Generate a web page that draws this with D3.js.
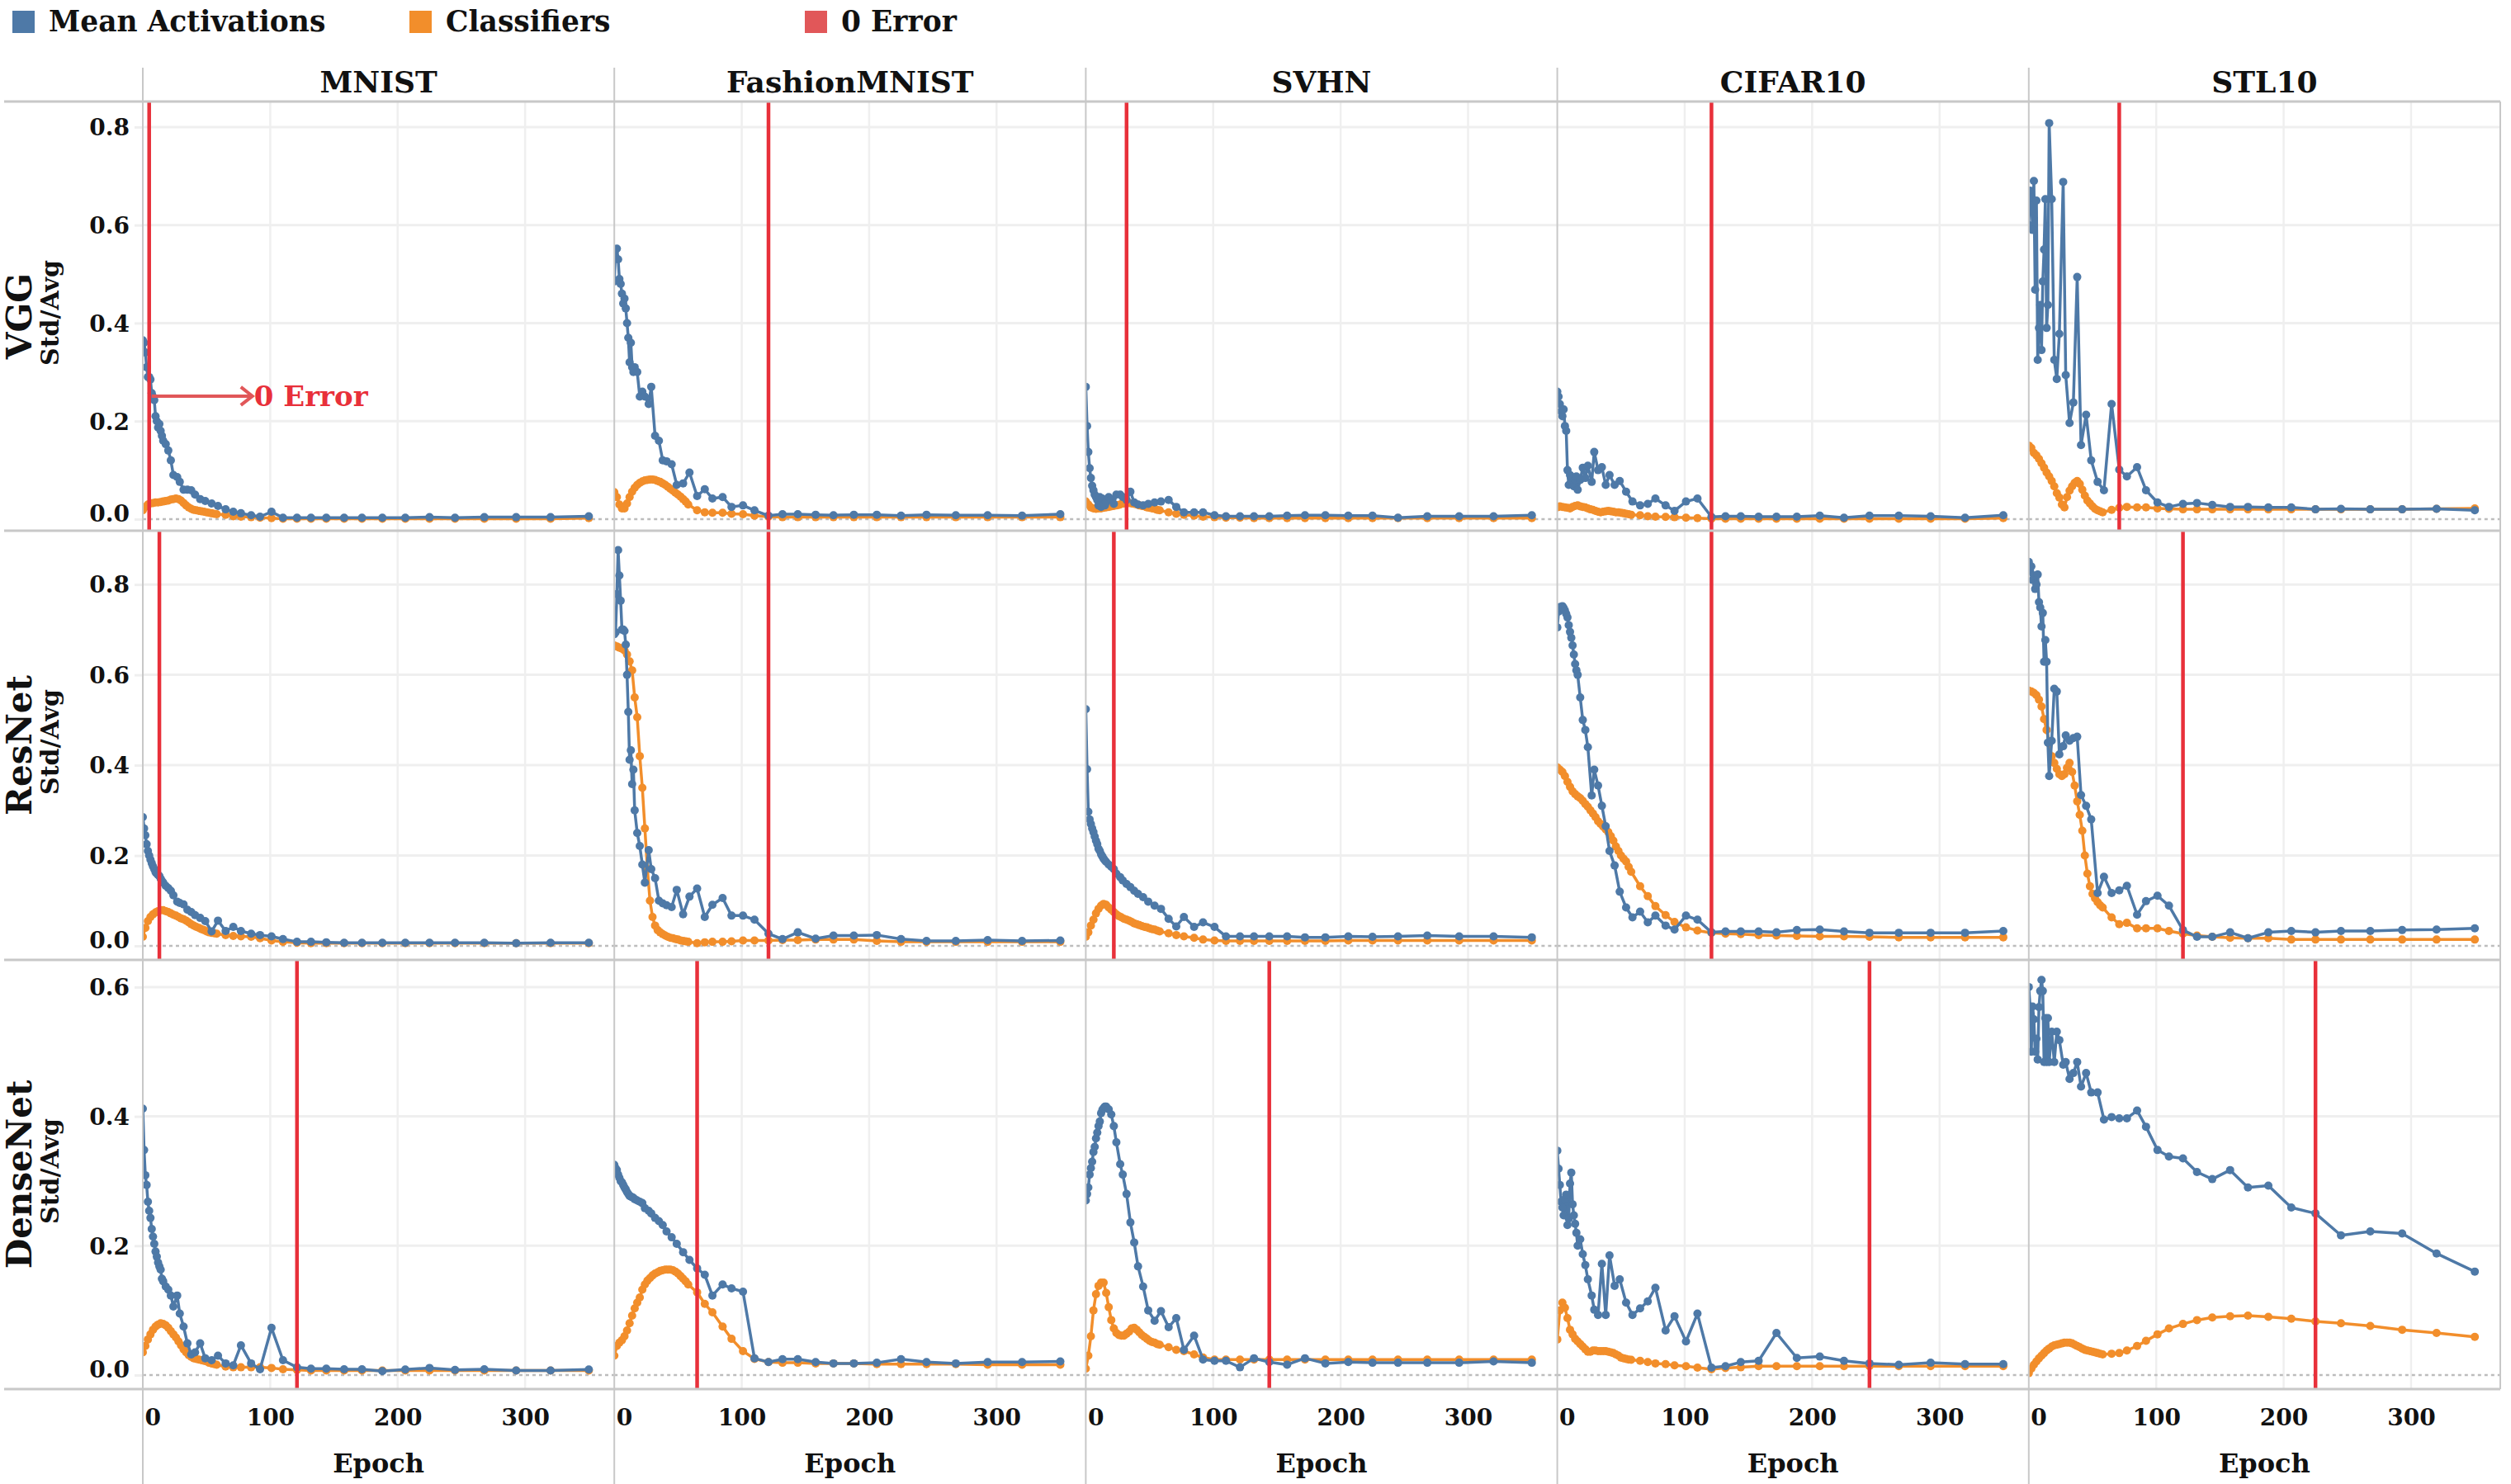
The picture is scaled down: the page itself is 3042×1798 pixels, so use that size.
<!DOCTYPE html>
<html>
<head>
<meta charset="utf-8">
<script src="https://cdn.jsdelivr.net/npm/d3@7"></script>
<style>
body { margin: 0; background: #fff; }
svg { display: block; }
text { font-family: "DejaVu Serif", serif; font-weight: bold; fill: #111; }
</style>
</head>
<body>
<svg id="chart"></svg>
<script>
// ---- data ----
var models = ['VGG', 'ResNet', 'DenseNet'];
var datasets = ['MNIST', 'FashionMNIST', 'SVHN', 'CIFAR10', 'STL10'];

// epochs where the mean activations were measured
var actEpochs = [0,1,2,3,4,5,6,7,8,9,10,11,12,13,14,15,16,
	18,20,22,24,27,29,32,35,38,41,45,49,54,59,
	65,71,77,85,92,101,110,121,132,144,
	158,172,188,206,225,245,268,293,320,350];
// epochs where the classifiers were measured
var clsEpochs = [0,2,4,6,8,10,12,14,16,18,20,22,24,26,28,
	30,32,34,36,38,40,42,44,46,48,50,52,54,56,58,
	65,71,77,85,92,101,110,121,132,144,
	158,172,188,206,225,245,268,293,320,350];

// epoch of zero training error, per model and dataset
var zeroErrVgg = [5, 121, 32, 121, 71];
var zeroErrResNet = [13, 121, 22, 121, 121];
var zeroErrDense = [121, 65, 144, 245, 225];

var yTicksVgg = [0, 0.2, 0.4, 0.6, 0.8];
var yTicksResNet = [0, 0.2, 0.4, 0.6, 0.8];
var yTicksDense = [0, 0.2, 0.4, 0.6];
var xTicks = [0, 100, 200, 300];

// VGG
var actVggMnist = [0.365,0.36,0.34,0.31,0.29,0.29,0.285,0.257,0.25,0.243,0.21,0.2,0.187,0.194,0.18,0.17,0.16,
	0.153,0.14,0.12,0.09,0.086,0.076,0.06,0.06,0.059,0.05,0.041,0.037,0.032,0.027,
	0.02,0.015,0.012,0.008,0.005,0.015,0.003,0.003,0.003,0.003,
	0.003,0.003,0.003,0.003,0.004,0.003,0.004,0.004,0.004,0.006];
var clsVggMnist = [0.018,0.025,0.03,0.032,0.033,0.034,0.034,0.035,0.036,0.037,0.038,0.04,0.041,0.042,0.041,
	0.038,0.033,0.028,0.024,0.021,0.019,0.018,0.017,0.016,0.015,0.014,0.013,0.012,0.011,0.01,
	0.009,0.006,0.005,0.004,0.003,0.002,0.001,0.001,0.001,0.001,
	0.001,0.001,0.001,0.001,0.001,0.001,0.001,0.001,0.001,0.002];
var actVggFashion = [0.485,0.55,0.552,0.53,0.49,0.48,0.46,0.44,0.45,0.43,0.40,0.37,0.32,0.36,0.31,0.30,0.31,
	0.30,0.25,0.26,0.25,0.235,0.27,0.17,0.16,0.12,0.118,0.112,0.07,0.073,0.095,
	0.047,0.061,0.042,0.045,0.025,0.028,0.018,0.007,0.01,0.01,
	0.009,0.008,0.009,0.009,0.007,0.009,0.008,0.008,0.007,0.01];
var clsVggFashion = [0.055,0.045,0.03,0.022,0.022,0.032,0.045,0.056,0.064,0.07,0.074,0.077,0.079,0.08,0.081,
	0.081,0.08,0.078,0.076,0.073,0.07,0.066,0.062,0.058,0.054,0.05,0.046,0.041,0.036,0.03,
	0.018,0.014,0.013,0.013,0.011,0.01,0.007,0.005,0.004,0.004,
	0.004,0.004,0.004,0.004,0.004,0.004,0.004,0.004,0.004,0.004];
var actVggSvhn = [0.27,0.19,0.137,0.104,0.084,0.068,0.059,0.05,0.045,0.039,0.028,0.045,0.025,0.042,0.03,0.028,0.035,
	0.045,0.04,0.031,0.05,0.05,0.045,0.039,0.056,0.034,0.03,0.028,0.031,0.034,0.036,
	0.039,0.025,0.014,0.014,0.014,0.008,0.006,0.006,0.006,0.006,
	0.007,0.008,0.008,0.007,0.007,0.003,0.006,0.006,0.006,0.008];
var clsVggSvhn = [0.036,0.03,0.024,0.022,0.021,0.022,0.022,0.023,0.024,0.025,0.026,0.027,0.028,0.029,0.031,
	0.032,0.033,0.033,0.032,0.031,0.03,0.028,0.027,0.026,0.024,0.023,0.022,0.021,0.019,0.018,
	0.014,0.011,0.009,0.007,0.005,0.004,0.003,0.003,0.002,0.002,
	0.002,0.002,0.002,0.002,0.002,0.002,0.002,0.002,0.002,0.002];
var actVggCifar = [0.26,0.25,0.235,0.22,0.21,0.224,0.19,0.18,0.1,0.07,0.09,0.087,0.075,0.067,0.08,0.087,0.06,
	0.08,0.105,0.084,0.109,0.076,0.137,0.1,0.106,0.07,0.09,0.07,0.078,0.056,0.036,
	0.028,0.031,0.042,0.028,0.017,0.036,0.042,0.0045,0.006,0.006,
	0.005,0.005,0.005,0.007,0.003,0.007,0.007,0.006,0.003,0.008];
var clsVggCifar = [0.024,0.026,0.025,0.024,0.023,0.022,0.025,0.027,0.028,0.026,0.025,0.024,0.022,0.02,0.019,
	0.017,0.015,0.014,0.015,0.016,0.017,0.016,0.015,0.014,0.014,0.013,0.012,0.011,0.01,0.009,
	0.008,0.006,0.005,0.0045,0.004,0.003,0.002,0.001,0.001,0.001,
	0.001,0.001,0.001,0.001,0.001,0.001,0.001,0.001,0.001,0.002];
var actVggStl = [0.6,0.67,0.656,0.59,0.69,0.468,0.65,0.325,0.39,0.437,0.345,0.485,0.55,0.653,0.39,0.437,0.808,
	0.653,0.325,0.286,0.378,0.688,0.294,0.196,0.238,0.494,0.151,0.213,0.12,0.076,0.059,
	0.235,0.101,0.087,0.106,0.059,0.034,0.025,0.031,0.033,0.029,
	0.025,0.025,0.024,0.024,0.02,0.021,0.02,0.02,0.021,0.018];
var clsVggStl = [0.15,0.145,0.135,0.13,0.123,0.114,0.105,0.095,0.087,0.078,0.067,0.053,0.044,0.03,0.024,
	0.045,0.058,0.067,0.074,0.078,0.072,0.06,0.048,0.038,0.032,0.026,0.021,0.018,0.016,0.014,
	0.019,0.023,0.025,0.024,0.024,0.022,0.021,0.02,0.02,0.02,
	0.02,0.02,0.02,0.02,0.02,0.02,0.02,0.02,0.021,0.022];

// ResNet
var actResMnist = [0.285,0.26,0.245,0.225,0.21,0.2,0.191,0.183,0.176,0.17,0.163,0.16,0.157,0.155,0.149,0.144,0.14,
	0.133,0.128,0.122,0.112,0.098,0.095,0.092,0.08,0.075,0.068,0.062,0.055,0.032,0.056,
	0.033,0.042,0.033,0.027,0.024,0.021,0.015,0.009,0.009,0.008,
	0.007,0.007,0.007,0.007,0.007,0.007,0.007,0.006,0.007,0.007];
var clsResMnist = [0.02,0.04,0.055,0.064,0.07,0.074,0.077,0.079,0.079,0.077,0.075,0.072,0.069,0.067,0.064,
	0.061,0.059,0.056,0.052,0.048,0.045,0.042,0.04,0.037,0.035,0.032,0.03,0.029,0.028,0.027,
	0.024,0.022,0.021,0.02,0.017,0.012,0.009,0.007,0.006,0.006,
	0.006,0.006,0.006,0.006,0.006,0.006,0.006,0.006,0.006,0.006];
var actResFashion = [0.69,0.694,0.779,0.876,0.82,0.764,0.7,0.7,0.697,0.667,0.6,0.518,0.412,0.433,0.358,0.39,0.3,
	0.25,0.221,0.18,0.14,0.212,0.17,0.15,0.1,0.094,0.09,0.086,0.124,0.07,0.109,
	0.127,0.064,0.091,0.106,0.067,0.067,0.058,0.027,0.015,0.03,
	0.016,0.023,0.023,0.024,0.015,0.011,0.011,0.013,0.011,0.012];
var clsResFashion = [0.665,0.663,0.66,0.658,0.654,0.645,0.63,0.61,0.55,0.506,0.42,0.35,0.26,0.17,0.1,
	0.064,0.045,0.035,0.03,0.026,0.023,0.02,0.018,0.017,0.015,0.014,0.012,0.011,0.01,0.009,
	0.006,0.008,0.009,0.009,0.01,0.012,0.012,0.012,0.013,0.013,
	0.014,0.014,0.014,0.011,0.009,0.009,0.009,0.009,0.009,0.009];
var actResSvhn = [0.524,0.391,0.297,0.28,0.27,0.26,0.252,0.242,0.233,0.225,0.215,0.21,0.203,0.198,0.193,0.189,0.186,
	0.18,0.175,0.17,0.16,0.152,0.145,0.137,0.13,0.122,0.115,0.108,0.098,0.089,0.082,
	0.06,0.043,0.064,0.042,0.052,0.042,0.021,0.021,0.021,0.021,
	0.021,0.019,0.019,0.021,0.02,0.021,0.023,0.021,0.021,0.019];
var clsResSvhn = [0.02,0.03,0.045,0.058,0.072,0.082,0.089,0.093,0.091,0.085,0.08,0.075,0.07,0.066,0.063,
	0.06,0.058,0.056,0.053,0.05,0.048,0.046,0.044,0.042,0.041,0.039,0.037,0.036,0.034,0.032,
	0.028,0.024,0.021,0.018,0.014,0.012,0.011,0.011,0.011,0.011,
	0.011,0.011,0.011,0.012,0.012,0.012,0.012,0.012,0.012,0.012];
var actResCifar = [0.705,0.74,0.75,0.748,0.752,0.748,0.742,0.735,0.727,0.71,0.695,0.682,0.665,0.645,0.624,0.61,0.6,
	0.55,0.5,0.478,0.44,0.333,0.39,0.355,0.31,0.265,0.21,0.178,0.12,0.085,0.063,
	0.076,0.052,0.067,0.045,0.036,0.067,0.058,0.03,0.032,0.032,
	0.032,0.03,0.035,0.036,0.032,0.029,0.029,0.029,0.029,0.033];
var clsResCifar = [0.395,0.39,0.385,0.376,0.363,0.352,0.342,0.336,0.331,0.327,0.321,0.314,0.308,0.3,0.293,
	0.285,0.276,0.27,0.264,0.258,0.252,0.243,0.233,0.22,0.21,0.2,0.193,0.187,0.175,0.164,
	0.132,0.11,0.088,0.068,0.053,0.041,0.034,0.029,0.027,0.026,
	0.024,0.023,0.022,0.021,0.021,0.02,0.019,0.019,0.019,0.019];
var actResStl = [0.85,0.83,0.84,0.81,0.82,0.79,0.8,0.822,0.761,0.749,0.707,0.737,0.629,0.677,0.629,0.45,0.376,
	0.454,0.569,0.563,0.424,0.442,0.466,0.454,0.46,0.463,0.334,0.31,0.28,0.117,0.153,
	0.117,0.123,0.133,0.069,0.099,0.111,0.089,0.035,0.02,0.02,
	0.03,0.017,0.03,0.033,0.03,0.033,0.033,0.035,0.036,0.039];
var clsResStl = [0.565,0.563,0.56,0.555,0.545,0.53,0.502,0.478,0.448,0.42,0.405,0.392,0.38,0.376,0.38,
	0.394,0.405,0.385,0.355,0.32,0.29,0.255,0.2,0.16,0.132,0.115,0.105,0.097,0.09,0.085,
	0.063,0.048,0.051,0.039,0.039,0.039,0.033,0.027,0.023,0.02,
	0.018,0.017,0.017,0.014,0.014,0.014,0.014,0.014,0.014,0.014];

// DenseNet
var actDenseMnist = [0.412,0.348,0.309,0.294,0.268,0.254,0.243,0.226,0.214,0.203,0.191,0.183,0.174,0.168,0.163,0.149,0.145,
	0.137,0.132,0.123,0.106,0.123,0.095,0.075,0.049,0.032,0.035,0.049,0.026,0.023,0.03,
	0.018,0.015,0.046,0.018,0.009,0.073,0.023,0.012,0.01,0.01,
	0.009,0.009,0.006,0.0085,0.011,0.008,0.009,0.007,0.007,0.0085];
var clsDenseMnist = [0.035,0.045,0.055,0.063,0.07,0.075,0.078,0.08,0.079,0.077,0.073,0.068,0.063,0.058,0.052,
	0.046,0.04,0.035,0.031,0.028,0.026,0.025,0.024,0.023,0.022,0.021,0.019,0.018,0.017,0.016,
	0.013,0.012,0.012,0.012,0.012,0.011,0.009,0.008,0.007,0.007,
	0.007,0.007,0.007,0.007,0.007,0.007,0.007,0.007,0.007,0.007];
var actDenseFashion = [0.325,0.32,0.317,0.31,0.305,0.3,0.298,0.294,0.29,0.287,0.283,0.28,0.277,0.276,0.275,0.274,0.272,
	0.27,0.268,0.266,0.258,0.254,0.25,0.243,0.238,0.232,0.222,0.213,0.203,0.19,0.178,
	0.165,0.155,0.123,0.14,0.134,0.129,0.026,0.02,0.0245,0.0245,
	0.02,0.018,0.018,0.019,0.0245,0.02,0.018,0.02,0.02,0.021];
var clsDenseFashion = [0.03,0.045,0.05,0.054,0.06,0.069,0.08,0.092,0.103,0.112,0.12,0.132,0.14,0.146,0.15,
	0.154,0.157,0.159,0.161,0.162,0.163,0.163,0.163,0.162,0.16,0.157,0.153,0.149,0.145,0.14,
	0.128,0.11,0.097,0.075,0.056,0.037,0.025,0.02,0.019,0.019,
	0.018,0.018,0.018,0.017,0.017,0.017,0.017,0.016,0.016,0.016];
var actDenseSvhn = [0.27,0.28,0.29,0.31,0.32,0.33,0.345,0.353,0.366,0.375,0.385,0.392,0.405,0.41,0.413,0.415,0.415,
	0.411,0.403,0.385,0.36,0.326,0.31,0.28,0.236,0.205,0.168,0.137,0.1,0.084,0.099,
	0.074,0.088,0.039,0.061,0.024,0.022,0.022,0.012,0.026,0.02,
	0.016,0.026,0.018,0.02,0.019,0.019,0.019,0.019,0.021,0.019];
var clsDenseSvhn = [0.01,0.03,0.06,0.1,0.125,0.138,0.143,0.143,0.127,0.105,0.085,0.072,0.065,0.062,0.061,
	0.061,0.064,0.067,0.072,0.073,0.07,0.066,0.062,0.059,0.056,0.053,0.051,0.05,0.048,0.047,
	0.043,0.039,0.037,0.032,0.027,0.024,0.024,0.024,0.024,0.024,
	0.024,0.024,0.024,0.024,0.024,0.024,0.024,0.024,0.024,0.024];
var actDenseCifar = [0.347,0.319,0.294,0.268,0.259,0.247,0.272,0.279,0.232,0.242,0.296,0.313,0.264,0.247,0.234,0.22,0.2,
	0.21,0.187,0.17,0.148,0.123,0.101,0.093,0.172,0.093,0.185,0.138,0.148,0.112,0.093,
	0.103,0.114,0.135,0.069,0.091,0.052,0.095,0.0115,0.0137,0.02,
	0.022,0.065,0.0265,0.0286,0.022,0.018,0.016,0.019,0.017,0.017];
var clsDenseCifar = [0.055,0.1,0.112,0.104,0.088,0.07,0.063,0.056,0.052,0.048,0.044,0.04,0.036,0.036,0.038,
	0.038,0.037,0.037,0.037,0.037,0.036,0.035,0.034,0.032,0.03,0.027,0.026,0.025,0.024,0.0235,
	0.022,0.02,0.018,0.017,0.015,0.0137,0.0115,0.009,0.011,0.012,
	0.0137,0.0137,0.0137,0.0137,0.0137,0.0137,0.0137,0.0137,0.0137,0.0137];
var actDenseStl = [0.6,0.57,0.5,0.57,0.55,0.5,0.52,0.488,0.569,0.594,0.611,0.594,0.484,0.552,0.484,0.552,0.484,
	0.531,0.484,0.531,0.518,0.48,0.484,0.458,0.467,0.484,0.446,0.467,0.437,0.437,0.395,
	0.399,0.397,0.397,0.409,0.384,0.348,0.338,0.335,0.314,0.303,
	0.317,0.29,0.293,0.259,0.25,0.216,0.222,0.219,0.188,0.16];
var clsDenseStl = [0.003,0.01,0.016,0.021,0.026,0.03,0.034,0.038,0.041,0.044,0.046,0.047,0.048,0.049,0.05,
	0.05,0.05,0.049,0.047,0.045,0.043,0.041,0.039,0.038,0.037,0.036,0.035,0.034,0.033,0.032,
	0.033,0.034,0.038,0.045,0.053,0.063,0.072,0.079,0.085,0.089,
	0.091,0.092,0.09,0.087,0.083,0.08,0.076,0.07,0.065,0.059];

// grid of panels built from the arrays above
var actTable = [
	[actVggMnist, actVggFashion, actVggSvhn, actVggCifar, actVggStl],
	[actResMnist, actResFashion, actResSvhn, actResCifar, actResStl],
	[actDenseMnist, actDenseFashion, actDenseSvhn, actDenseCifar, actDenseStl]
];
var clsTable = [
	[clsVggMnist, clsVggFashion, clsVggSvhn, clsVggCifar, clsVggStl],
	[clsResMnist, clsResFashion, clsResSvhn, clsResCifar, clsResStl],
	[clsDenseMnist, clsDenseFashion, clsDenseSvhn, clsDenseCifar, clsDenseStl]
];
var zeroErrTable = [zeroErrVgg, zeroErrResNet, zeroErrDense];
var yTicksTable = [yTicksVgg, yTicksResNet, yTicksDense];

// ---- layout ----
var W = 3042, H = 1798;
var plotLeft = 173, panelW = 571.2, rowH = 520, rowsTop = 123, headTop = 82;
var plotRight = plotLeft + panelW * datasets.length;
var plotBottom = rowsTop + rowH * models.length;
var yDomains = [[-0.0236, 0.852], [-0.031, 0.919], [-0.0217, 0.642]];
var xDomain = [0, 370];

var blue = '#4e79a7', orange = '#f28e2b', red = '#e8303a';
var gridColor = '#efefef', borderColor = '#c8c8c8';

var svg = d3.select('#chart').attr('width', W).attr('height', H);
svg.append('rect').attr('width', W).attr('height', H).attr('fill', '#fff');

function pairs(epochs, values){
	if(epochs.length != values.length)
		console.warn('length mismatch', epochs.length, values.length);
	var n = Math.min(epochs.length, values.length);
	var out = [];
	for(var i = 0; i < n; i++)
		out.push({e: epochs[i], v: values[i]});
	return out;
}

function drawSeries(g, data, x, y, color){
	var line = d3.line().x(d => x(d.e)).y(d => y(d.v));
	g.append('path')
		.datum(data)
		.attr('fill', 'none')
		.attr('stroke', color)
		.attr('stroke-width', 3.5)
		.attr('stroke-linejoin', 'round')
		.attr('d', line);
	g.selectAll(null)
		.data(data)
		.enter().append('circle')
			.attr('cx', d => x(d.e))
			.attr('cy', d => y(d.v))
			.attr('r', 5)
			.attr('fill', color);
}

// ---- legend ----
var legend = [
	{label: 'Mean Activations', color: blue, x: 15},
	{label: 'Classifiers', color: orange, x: 496},
	{label: '0 Error', color: '#e15759', x: 975}
];
var lg = svg.append('g');
legend.forEach(function(d){
	lg.append('rect').attr('x', d.x).attr('y', 13).attr('width', 27).attr('height', 27).attr('fill', d.color);
	lg.append('text').attr('x', d.x + 44).attr('y', 38).style('font-size', '34.5px').text(d.label);
});

// ---- panels ----
var xBase = d3.scaleLinear().domain(xDomain);

models.forEach(function(model, r){
	var top = rowsTop + r * rowH;
	var y = d3.scaleLinear().domain(yDomains[r]).range([top + rowH, top]);
	var ticks = yTicksTable[r];

	datasets.forEach(function(ds, c){
		var left = plotLeft + c * panelW;
		var x = xBase.copy().range([left, left + panelW]);
		var g = svg.append('g');
		var clipId = 'clip_' + r + '_' + c;
		g.append('clipPath').attr('id', clipId)
			.append('rect').attr('x', left).attr('y', top).attr('width', panelW).attr('height', rowH);

		// grid
		g.append('g')
			.selectAll('line').data(xTicks.filter(t => t > 0)).enter().append('line')
				.attr('x1', d => x(d)).attr('x2', d => x(d))
				.attr('y1', top).attr('y2', top + rowH)
				.attr('stroke', gridColor).attr('stroke-width', 2.5);
		g.append('g')
			.selectAll('line').data(ticks.filter(t => t > 0)).enter().append('line')
				.attr('x1', left).attr('x2', left + panelW)
				.attr('y1', d => y(d)).attr('y2', d => y(d))
				.attr('stroke', gridColor).attr('stroke-width', 3);
		g.append('line')
			.attr('x1', left).attr('x2', left + panelW)
			.attr('y1', y(0)).attr('y2', y(0))
			.attr('stroke', '#bdbdbd').attr('stroke-width', 2.5)
			.attr('stroke-dasharray', '4,4');

		var marks = g.append('g').attr('clip-path', `url(#${clipId})`);
		drawSeries(marks, pairs(clsEpochs, clsTable[r][c]), x, y, orange);
		drawSeries(marks, pairs(actEpochs, actTable[r][c]), x, y, blue);

		var ze = zeroErrTable[r][c];
		marks.append('line')
			.attr('x1', x(ze)).attr('x2', x(ze))
			.attr('y1', top).attr('y2', top + rowH)
			.attr('stroke', red).attr('stroke-width', 4.5);

		// annotation in the first panel
		if(r == 0 && c == 0){
			var ay = y(0.251), ax1 = x(ze) + 3, ax2 = x(86);
			g.append('line')
				.attr('x1', ax1).attr('x2', ax2).attr('y1', ay).attr('y2', ay)
				.attr('stroke', '#e15759').attr('stroke-width', 4);
			g.append('path')
				.attr('d', `M${ax2 - 14},${ay - 11}L${ax2},${ay}L${ax2 - 14},${ay + 11}`)
				.attr('fill', 'none').attr('stroke', '#e15759').attr('stroke-width', 4);
			g.append('text')
				.attr('x', ax2 + 2).attr('y', ay).attr('dy', '0.36em')
				.style('font-size', '34px').style('fill', red)
				.text('0 Error');
		}

		// y axis only on the left column
		if(c == 0){
			var ya = svg.append('g')
				.attr('transform', `translate(${left},0)`)
				.call(d3.axisLeft(y).tickValues(ticks).tickFormat(d3.format('.1f')).tickSize(10).tickPadding(6));
			ya.select('.domain').remove();
			ya.selectAll('.tick line').attr('stroke', gridColor).attr('stroke-width', 3);
			ya.selectAll('.tick text')
				.style('font-size', '28px').style('font-family', null)
				.attr('dy', d => d == 0 ? '0.1em' : '0.35em');
		}

		// x axis on the bottom row
		if(r == models.length - 1){
			var xa = svg.append('g')
				.attr('transform', `translate(0,${plotBottom})`)
				.call(d3.axisBottom(x).tickValues(xTicks).tickFormat(d3.format('d')).tickSize(0));
			xa.select('.domain').remove();
			xa.selectAll('.tick text')
				.style('font-size', '28px').style('font-family', null)
				.attr('dy', null).attr('y', 44)
				.attr('text-anchor', d => d == 0 ? 'start' : 'middle')
				.attr('x', d => d == 0 ? 2 : 0);
			svg.append('text')
				.attr('x', left + panelW / 2).attr('y', 1784)
				.attr('text-anchor', 'middle')
				.style('font-size', '32px')
				.text('Epoch');
		}

		// column header
		if(r == 0){
			svg.append('text')
				.attr('x', left + panelW / 2).attr('y', 112)
				.attr('text-anchor', 'middle')
				.style('font-size', '36px')
				.text(ds);
		}
	});

	// row label
	var cy = top + rowH / 2;
	svg.append('text')
		.attr('transform', `translate(38,${cy}) rotate(-90)`)
		.attr('text-anchor', 'middle')
		.style('font-size', '42px')
		.text(model);
	svg.append('text')
		.attr('transform', `translate(71,${cy - 4}) rotate(-90)`)
		.attr('text-anchor', 'middle')
		.style('font-size', '30px')
		.text('Std/Avg');
});

// ---- frame lines ----
var frame = svg.append('g').attr('stroke', borderColor);
d3.range(models.length + 1).forEach(function(i){
	var yy = rowsTop + i * rowH;
	frame.append('line')
		.attr('x1', 5).attr('x2', plotRight)
		.attr('y1', yy).attr('y2', yy)
		.attr('stroke-width', 3);
});
d3.range(datasets.length).forEach(function(i){
	var xx = plotLeft + i * panelW;
	frame.append('line')
		.attr('x1', xx).attr('x2', xx)
		.attr('y1', headTop).attr('y2', H)
		.attr('stroke-width', 2);
});
frame.append('line')
	.attr('x1', plotRight).attr('x2', plotRight)
	.attr('y1', rowsTop).attr('y2', plotBottom)
	.attr('stroke-width', 2);
</script>
</body>
</html>
